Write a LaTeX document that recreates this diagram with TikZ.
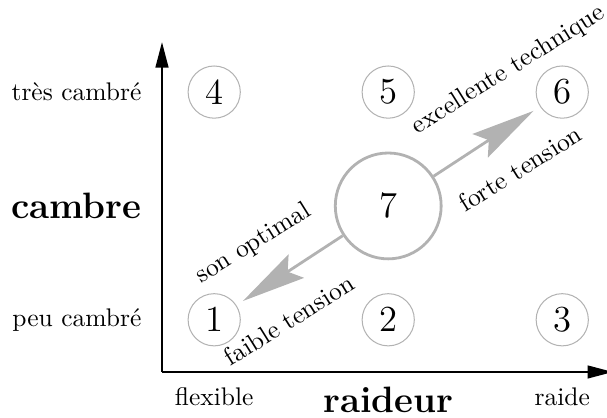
\documentclass[tikz,border=0pt]{standalone}
\usepackage{tikz}
\usetikzlibrary{arrows.meta,positioning}

\begin{document}
\begin{tikzpicture}[
  >=Stealth,
  numnode/.style={draw=black!30,circle,minimum size=7.2mm,inner sep=0pt,font=\Large},
  bignode/.style={numnode,line width=1.1pt,minimum size=14.6mm},
  graylink/.style={draw=black!30,line width=1.1pt,shorten >=3pt,
    -{Stealth[length=25pt,width=11pt,inset=4pt]}},
  pathlabel/.style={anchor=base west,inner sep=0pt,rotate=32},
  axisline/.style={thick,-{Triangle[length=10pt,width=5pt]}}
]
\useasboundingbox (-2.234,-0.634) rectangle (6.137,5.13);

% ---- axes ----
\coordinate (orig) at (0,0);
\coordinate (ytop) at (0,4.55);
\coordinate (xend) at (6.22,0);
\draw[axisline] (orig) -- (ytop);
\draw[axisline] (orig) -- (xend);

% ---- axis labels ----
\node[anchor=east] (tres) at (-0.16,3.86) {très cambré};
\node[anchor=east,font=\Large\bfseries] (cambre) at (-0.16,2.29) {cambre};
\node[anchor=east] (peu) at (-0.16,0.72) {peu cambré};
\node[anchor=north] (flex) at (0.72,-0.09) {flexible};
\node[anchor=north,font=\Large\bfseries] (raideur) at (3.12,-0.09) {raideur};
\node[anchor=north] (raide) at (5.52,-0.09) {raide};

% ---- grid of states ----
\node[numnode] (n4) at (0.72,3.86) {4};
\node[numnode] (n5) at (3.12,3.86) {5};
\node[numnode] (n6) at (5.52,3.86) {6};
\node[numnode] (n1) at (0.72,0.72) {1};
\node[numnode] (n2) at (3.12,0.72) {2};
\node[numnode] (n3) at (5.52,0.72) {3};
\node[bignode] (n7) at (3.12,2.29) {7};

% ---- moves from 7 ----
\draw[graylink] (n7) -- (n6);
\draw[graylink] (n7) -- (n1);

\node[pathlabel] (excel) at (3.52,3.27) {excellente technique};
\node[pathlabel] (forte) at (4.18,2.19) {forte tension};
\node[pathlabel] (sonopt) at (0.54,1.21) {son optimal};
\node[pathlabel] (faible) at (0.94,0.07) {faible tension};

\end{tikzpicture}
\end{document}
